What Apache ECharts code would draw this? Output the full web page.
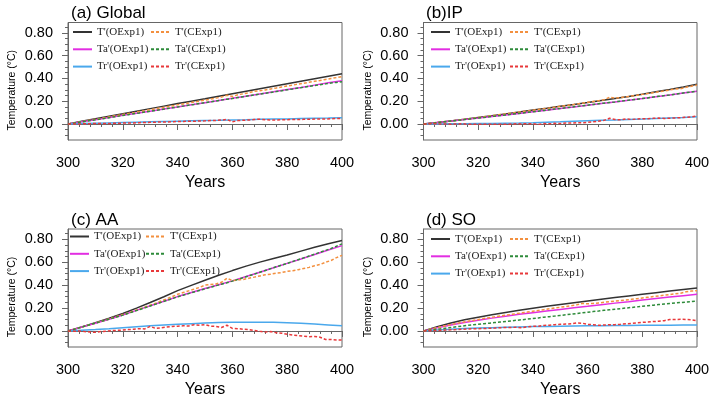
<!DOCTYPE html>
<html><head><meta charset="utf-8">
<script src="https://cdn.jsdelivr.net/npm/echarts@6/dist/echarts.min.js"></script>
<style>html,body{margin:0;padding:0;background:#fff}#c{width:714px;height:403px}</style>
</head><body><div id="c"></div>
<script>
const yearsO = [300,305,310,315,320,325,330,335,340,345,350,355,360,365,370,375,380,385,390,395,400];
const yearsC = [300,302,304,306,308,310,312,314,316,318,320,322,324,326,328,330,332,334,336,338,340,342,344,346,348,350,352,354,356,358,360,362,364,366,368,370,372,374,376,378,380,382,384,386,388,390,392,394,396,398,400];
const xTicks = [300,320,340,360,380,400];
const yMajor = [0,0.2,0.4,0.6,0.8];
const yMinor = [-0.1,-0.05,0.05,0.1,0.15,0.25,0.3,0.35,0.45,0.5,0.55,0.65,0.7,0.75,0.85];
const titles = ['(a) Global','(b)IP','(c) AA','(d) SO'];
const namesO = ["T'(OExp1)","Ta'(OExp1)","Tr'(OExp1)"];
const namesC = ["T'(CExp1)","Ta'(CExp1)","Tr'(CExp1)"];

// (a) Global
const a_T_O  = [0,0.024,0.047,0.069,0.091,0.113,0.135,0.157,0.179,0.2,0.221,0.243,0.265,0.287,0.309,0.331,0.353,0.375,0.397,0.419,0.44];
const a_Ta_O = [0,0.019,0.038,0.057,0.076,0.094,0.112,0.131,0.149,0.168,0.187,0.206,0.225,0.244,0.263,0.282,0.302,0.321,0.341,0.361,0.38];
const a_Tr_O = [0,0.004,0.007,0.01,0.013,0.016,0.019,0.022,0.025,0.028,0.031,0.033,0.036,0.038,0.041,0.043,0.045,0.048,0.05,0.052,0.055];
const a_T_C  = [0,0.008,0.017,0.025,0.034,0.042,0.05,0.059,0.067,0.075,0.084,0.092,0.1,0.109,0.117,0.126,0.134,0.142,0.151,0.159,0.168,0.176,0.184,0.193,0.201,0.21,0.218,0.227,0.236,0.252,0.241,0.257,0.265,0.274,0.287,0.291,0.299,0.308,0.316,0.325,0.333,0.341,0.35,0.358,0.366,0.374,0.382,0.391,0.399,0.407,0.415];
const a_Ta_C = [0,0.007,0.015,0.022,0.03,0.037,0.045,0.052,0.06,0.067,0.075,0.082,0.09,0.097,0.105,0.112,0.12,0.127,0.135,0.142,0.15,0.157,0.165,0.172,0.18,0.187,0.195,0.202,0.21,0.218,0.224,0.232,0.24,0.247,0.255,0.262,0.27,0.277,0.285,0.292,0.3,0.307,0.315,0.322,0.33,0.337,0.345,0.352,0.36,0.365,0.37];
const a_Tr_C = [0,0.001,0,0.002,0.003,0.004,0.005,0.004,0.006,0.007,0.008,0.01,0.009,0.012,0.013,0.015,0.016,0.018,0.017,0.02,0.022,0.023,0.025,0.024,0.027,0.028,0.03,0.032,0.035,0.04,0.02,0.03,0.033,0.035,0.04,0.042,0.038,0.036,0.035,0.037,0.038,0.04,0.039,0.041,0.042,0.043,0.044,0.043,0.046,0.048,0.05];

// (b) IP
const b_T_O  = [0,0.013,0.027,0.042,0.058,0.073,0.089,0.105,0.122,0.138,0.155,0.171,0.188,0.206,0.224,0.242,0.261,0.282,0.303,0.325,0.348];
const b_Ta_O = [0,0.013,0.026,0.039,0.052,0.066,0.08,0.093,0.107,0.121,0.136,0.15,0.165,0.18,0.194,0.209,0.223,0.239,0.255,0.271,0.287];
const b_Tr_O = [0,0.001,0.002,0.003,0.004,0.005,0.007,0.009,0.012,0.016,0.02,0.025,0.029,0.033,0.036,0.04,0.043,0.048,0.053,0.058,0.064];
const b_T_C  = [0,0.005,0.011,0.016,0.022,0.027,0.033,0.039,0.045,0.051,0.057,0.063,0.07,0.076,0.083,0.089,0.095,0.102,0.108,0.115,0.121,0.128,0.135,0.141,0.148,0.155,0.161,0.168,0.175,0.182,0.19,0.198,0.205,0.212,0.235,0.228,0.232,0.238,0.245,0.252,0.26,0.267,0.275,0.283,0.29,0.298,0.307,0.31,0.322,0.332,0.342];
const b_Ta_C = [0,0.005,0.01,0.016,0.021,0.026,0.031,0.036,0.042,0.047,0.052,0.058,0.063,0.069,0.074,0.08,0.085,0.091,0.096,0.102,0.107,0.113,0.119,0.125,0.131,0.136,0.142,0.148,0.154,0.159,0.165,0.171,0.177,0.183,0.189,0.194,0.2,0.206,0.212,0.217,0.223,0.229,0.236,0.243,0.249,0.255,0.262,0.268,0.275,0.281,0.287];
const b_Tr_C = [0,0.002,0.003,0.001,0,-0.001,0,0.003,-0.002,-0.003,-0.002,-0.003,-0.002,-0.003,-0.001,-0.002,0,0.002,0.001,0.003,0.002,-0.003,0.004,0.002,0.006,0.004,0.01,0.008,0.012,0.01,0.015,0.02,0.025,0.032,0.05,0.04,0.037,0.045,0.04,0.044,0.047,0.046,0.05,0.052,0.049,0.051,0.053,0.056,0.059,0.063,0.07];

// (c) AA
const c_T_O  = [0,0.035,0.072,0.111,0.153,0.199,0.248,0.299,0.352,0.398,0.443,0.486,0.527,0.566,0.601,0.633,0.663,0.697,0.73,0.762,0.79];
const c_Ta_O = [0,0.034,0.068,0.103,0.14,0.18,0.22,0.26,0.3,0.335,0.37,0.403,0.437,0.475,0.513,0.551,0.59,0.628,0.667,0.706,0.745];
const c_Tr_O = [0,0.006,0.012,0.02,0.029,0.037,0.045,0.052,0.058,0.064,0.069,0.073,0.076,0.077,0.077,0.075,0.072,0.067,0.061,0.053,0.045];
const c_T_C  = [0,0.013,0.027,0.041,0.055,0.069,0.083,0.098,0.113,0.128,0.143,0.158,0.175,0.19,0.207,0.225,0.243,0.262,0.28,0.3,0.32,0.335,0.35,0.365,0.38,0.4,0.405,0.41,0.425,0.46,0.44,0.445,0.45,0.46,0.47,0.48,0.49,0.495,0.505,0.51,0.52,0.525,0.535,0.545,0.555,0.57,0.58,0.6,0.615,0.64,0.66];
const c_Ta_C = [0,0.013,0.027,0.041,0.055,0.068,0.082,0.096,0.11,0.124,0.138,0.154,0.17,0.186,0.202,0.218,0.234,0.25,0.266,0.282,0.298,0.312,0.326,0.34,0.354,0.368,0.381,0.395,0.408,0.421,0.435,0.45,0.466,0.481,0.496,0.512,0.528,0.544,0.56,0.575,0.59,0.606,0.622,0.638,0.654,0.67,0.687,0.703,0.72,0.74,0.76];
const c_Tr_C = [0,-0.003,0,-0.005,-0.008,-0.012,-0.005,-0.002,0.003,0.005,0.008,0.012,0.015,0.02,0.018,0.04,0.022,0.028,0.035,0.04,0.042,0.045,0.043,0.055,0.05,0.055,0.042,0.04,0.03,0.05,0.022,0.02,0.015,0.012,0.005,-0.003,-0.01,-0.005,-0.015,-0.02,-0.028,-0.035,-0.04,-0.045,-0.05,-0.048,-0.055,-0.075,-0.075,-0.078,-0.08];

// (d) SO
const d_T_O  = [0,0.038,0.07,0.097,0.12,0.141,0.161,0.18,0.198,0.215,0.231,0.247,0.262,0.277,0.292,0.306,0.32,0.334,0.348,0.362,0.375];
const d_Ta_O = [0,0.027,0.052,0.074,0.094,0.112,0.129,0.145,0.16,0.174,0.188,0.202,0.215,0.229,0.243,0.256,0.27,0.283,0.296,0.308,0.32];
const d_Tr_O = [0,0.008,0.015,0.021,0.025,0.029,0.032,0.035,0.038,0.04,0.042,0.044,0.045,0.046,0.047,0.048,0.049,0.05,0.05,0.051,0.052];
const d_T_C  = [0,0.012,0.024,0.035,0.046,0.056,0.066,0.075,0.084,0.092,0.1,0.108,0.116,0.123,0.13,0.137,0.144,0.151,0.158,0.165,0.172,0.179,0.186,0.193,0.2,0.207,0.213,0.22,0.228,0.24,0.238,0.24,0.245,0.25,0.255,0.26,0.265,0.27,0.276,0.282,0.288,0.294,0.3,0.306,0.312,0.318,0.324,0.33,0.342,0.348,0.352];
const d_Ta_C = [0,0.006,0.012,0.018,0.024,0.03,0.036,0.042,0.048,0.053,0.058,0.063,0.068,0.073,0.078,0.083,0.088,0.093,0.098,0.103,0.108,0.114,0.12,0.125,0.13,0.136,0.141,0.147,0.152,0.158,0.164,0.169,0.174,0.18,0.185,0.19,0.195,0.2,0.205,0.21,0.215,0.22,0.225,0.23,0.235,0.24,0.244,0.248,0.252,0.256,0.26];
const d_Tr_C = [0,0.002,0.003,0.005,0.008,0.01,0.012,0.015,0.017,0.02,0.02,0.022,0.023,0.025,0.028,0.03,0.03,0.033,0.028,0.035,0.04,0.042,0.048,0.05,0.055,0.058,0.06,0.062,0.07,0.068,0.057,0.055,0.05,0.052,0.055,0.055,0.058,0.062,0.065,0.07,0.075,0.078,0.082,0.085,0.09,0.1,0.1,0.102,0.1,0.098,0.09];

const panelData = [
  [a_T_O,a_Ta_O,a_Tr_O,a_T_C,a_Ta_C,a_Tr_C],
  [b_T_O,b_Ta_O,b_Tr_O,b_T_C,b_Ta_C,b_Tr_C],
  [c_T_O,c_Ta_O,c_Tr_O,c_T_C,c_Ta_C,c_Tr_C],
  [d_T_O,d_Ta_O,d_Tr_O,d_T_C,d_Ta_C,d_Tr_C]
];

const colors = ['#333333','#e22ee2','#4aa8ec','#f3903f','#2e8b3a','#e8383a'];
const grids = [
  {left:68, top:22.5, width:274, height:117.5},
  {left:423.5, top:22.5, width:273.5, height:117.5},
  {left:68, top:229, width:274, height:118},
  {left:423.5, top:229, width:273.5, height:118}
];
const titlePos = [[66,0],[421,0],[66,207],[421,207]];
const legPos = [[[72,26],[150,26]],[[430,26],[509,26]],[[69,230.5],[145,230.5]],[[430,233],[509,233]]];
const YMIN = -0.14, YMAX = 0.89;
const FONT = 'Liberation Sans';
const axisCol = '#666';

const option = {animation:false, backgroundColor:'#fff', title:[], grid:[], xAxis:[], yAxis:[], legend:[], series:[]};
for (let p=0;p<4;p++){
  option.title.push({text:titles[p], left:titlePos[p][0], top:titlePos[p][1],
    textStyle:{fontFamily:FONT, fontSize:17, fontWeight:'normal', color:'#000'}});
  option.grid.push(Object.assign({show:true, borderColor:axisCol, borderWidth:1, containLabel:false}, grids[p]));
  option.xAxis.push({type:'value', gridIndex:p, min:300, max:400, interval:20,
    name:'Years', nameLocation:'middle', nameGap:35,
    nameTextStyle:{fontFamily:FONT, fontSize:16, color:'#000'},
    axisLine:{show:true, lineStyle:{color:axisCol, width:1}},
    axisTick:{show:true, length:6, lineStyle:{color:axisCol}},
    minorTick:{show:true, splitNumber:5, length:3, lineStyle:{color:axisCol}},
    axisLabel:{margin:15, fontFamily:FONT, fontSize:14.5, color:'#000', customValues:xTicks},
    splitLine:{show:false}});
  option.yAxis.push({type:'value', gridIndex:p, min:YMIN, max:YMAX, position:'left',
    name:'Temperature (°C)', nameLocation:'middle', nameGap:50,
    nameTextStyle:{fontFamily:FONT, fontSize:10.5, color:'#000', padding:[0,18,0,0]},
    axisLine:{show:true, onZero:false, lineStyle:{color:axisCol, width:1}},
    axisTick:{show:true, length:6, customValues:yMajor, lineStyle:{color:axisCol}},
    axisLabel:{margin:15, fontFamily:FONT, fontSize:14.5, color:'#000', customValues:yMajor,
      formatter:v=>Number(v).toFixed(2)},
    splitLine:{show:false}});
  option.yAxis.push({type:'value', gridIndex:p, min:YMIN, max:YMAX, position:'left', offset:0,
    axisLine:{show:false}, axisLabel:{show:false, customValues:yMinor},
    axisTick:{show:true, length:3, customValues:yMinor, lineStyle:{color:axisCol}},
    splitLine:{show:false}});
  [namesO,namesC].forEach((names,ci)=>{
    option.legend.push({data:names, orient:'vertical', left:legPos[p][ci][0], top:legPos[p][ci][1],
      itemWidth:19, itemHeight:12, itemGap:5.3, padding:0, selectedMode:false,
      itemStyle:{opacity:0, borderWidth:0},
      textStyle:{fontFamily:'Liberation Serif', fontSize:11, color:'#222', lineHeight:12}});
  });
  const arrs = panelData[p];
  for (let s=0;s<6;s++){
    const isC = s>=3;
    const xs = isC ? yearsC : yearsO;
    option.series.push({type:'line', name:(isC?namesC:namesO)[s%3], xAxisIndex:p, yAxisIndex:2*p,
      data: xs.map((x,i)=>[x, arrs[s][i]]), symbol:'none', showSymbol:false, smooth:false,
      lineStyle:{color:colors[s], width:1.5, type: isC ? [3,2] : 'solid'},
      itemStyle:{color:colors[s]}, z: isC?3:2});
  }
}
const chart = echarts.init(document.getElementById('c'), null, {renderer:'canvas'});
chart.setOption(option);
</script></body></html>
